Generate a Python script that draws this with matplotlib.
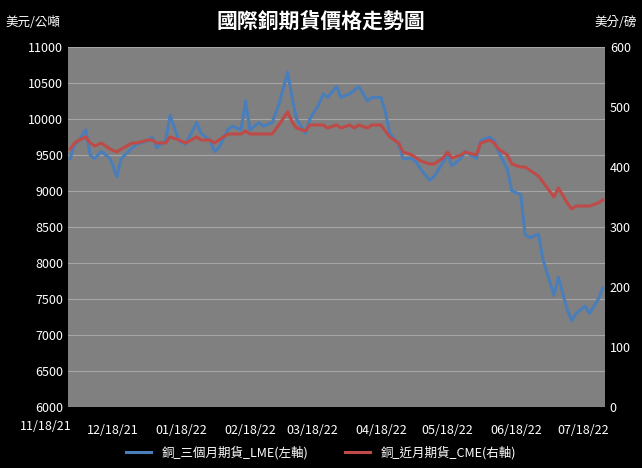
import matplotlib
matplotlib.use("Agg")
import matplotlib.pyplot as plt
import pandas as pd

plt.rcParams['font.family'] = ['Noto Sans CJK TC']

dates = ["2021-11-29","2021-12-01","2021-12-03","2021-12-06","2021-12-08","2021-12-10","2021-12-13","2021-12-15",
 "2021-12-17","2021-12-20","2021-12-22","2021-12-27","2021-12-29","2022-01-03","2022-01-05","2022-01-07","2022-01-11",
 "2022-01-13","2022-01-17","2022-01-20","2022-01-25","2022-01-27","2022-01-31","2022-02-02","2022-02-04","2022-02-08",
 "2022-02-10","2022-02-14","2022-02-16","2022-02-18","2022-02-22","2022-02-24","2022-02-28","2022-03-03","2022-03-07",
 "2022-03-09","2022-03-11","2022-03-15","2022-03-17","2022-03-21","2022-03-23","2022-03-25","2022-03-29","2022-03-31",
 "2022-04-04","2022-04-06","2022-04-08","2022-04-12","2022-04-14","2022-04-18","2022-04-20","2022-04-22","2022-04-26",
 "2022-04-28","2022-05-02","2022-05-04","2022-05-06","2022-05-10","2022-05-12","2022-05-16","2022-05-18","2022-05-20",
 "2022-05-24","2022-05-26","2022-05-31","2022-06-02","2022-06-06","2022-06-08","2022-06-10","2022-06-14","2022-06-16",
 "2022-06-20","2022-06-22","2022-06-24","2022-06-28","2022-06-30","2022-07-05","2022-07-07","2022-07-11","2022-07-13",
 "2022-07-15","2022-07-19","2022-07-21","2022-07-25","2022-07-27"]
lme = [9450,9650,9700,9850,9500,9450,9550,9500,9450,9200,9450,9600,9650,9700,9750,9600,9700,
 10050,9700,9650,9950,9800,9700,9550,9600,9850,9900,9850,10250,9850,9950,9900,9950,10200,10650,
 10300,10000,9800,10000,10200,10350,10300,10450,10300,10350,10400,10450,10250,10300,10300,10100,9800,9650,
 9450,9450,9400,9300,9150,9200,9400,9500,9350,9450,9550,9450,9700,9750,9700,9550,9300,9000,
 8950,8400,8350,8400,8050,7550,7800,7350,7200,7300,7400,7300,7500,7650]
cme = [430,440,445,450,440,435,440,435,430,425,430,440,440,445,445,440,440,
 450,445,440,450,445,445,440,445,455,455,455,460,455,455,455,455,470,492,
 475,465,460,470,470,470,465,470,465,470,465,470,465,470,470,460,450,440,
 425,420,415,410,405,405,415,425,415,420,425,420,440,445,440,430,420,405,
 400,400,395,385,375,350,365,340,330,335,335,335,340,345]

xticks = ["2021-12-18","2022-01-18","2022-02-18","2022-03-18","2022-04-18","2022-05-18","2022-06-18","2022-07-18"]
xlabels = ["12/18/21","01/18/22","02/18/22","03/18/22","04/18/22","05/18/22","06/18/22","07/18/22"]

d = pd.to_datetime(dates)
fig = plt.figure(figsize=(6.42,4.68), dpi=100, facecolor='black')
ax = fig.add_axes([68/642, 61/468, 537/642, 360/468])
ax.set_facecolor('#808080')
ax2 = ax.twinx()
ax.plot(d, lme, color='#4a7ebb', lw=2.2, label='銅_三個月期貨_LME(左軸)')
ax2.plot(d, cme, color='#be4b48', lw=2.2, label='銅_近月期貨_CME(右軸)')
ax.set_ylim(6000, 11000); ax.set_yticks(range(6000, 11001, 500))
ax2.set_ylim(0, 600); ax2.set_yticks(range(0, 601, 100))
ax.set_xlim(pd.Timestamp("2021-11-28"), pd.Timestamp("2022-07-28"))
ax.set_xticks(pd.to_datetime(xticks)); ax.set_xticklabels(xlabels)
ax.grid(axis='y', color='#a6a6a6', lw=0.8)
ax.set_axisbelow(True)
for a in (ax, ax2):
    a.tick_params(colors='white', labelsize=9, length=0)
    for s in a.spines.values(): s.set_visible(False)
ax.tick_params(axis='x', pad=12)
fig.text(46/642, 1-427/468, "11/18/21", color='white', fontsize=9, ha='center', va='center')
fig.text(0.5, 1-22/468, "國際銅期貨價格走勢圖", color='white', fontsize=15, fontweight='bold', ha='center', va='center')
fig.text(5/642, 1-22/468, "美元/公噸", color='white', fontsize=9, va='center')
fig.text(637/642, 1-22/468, "美分/磅", color='white', fontsize=9, va='center', ha='right')
h1, l1 = ax.get_legend_handles_labels(); h2, l2 = ax2.get_legend_handles_labels()
fig.legend(h1+h2, l1+l2, loc='center', bbox_to_anchor=(0.5, 1-453/468), ncol=2, frameon=False,
           labelcolor='white', fontsize=9, columnspacing=3)
fig.savefig("out.png", facecolor='black')
